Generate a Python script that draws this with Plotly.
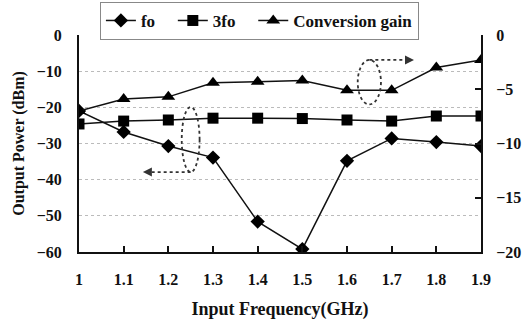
import plotly.graph_objects as go

freq = [1.0, 1.1, 1.2, 1.3, 1.4, 1.5, 1.6, 1.7, 1.8, 1.9]
fo = [-21.0, -26.8, -30.7, -33.9, -51.6, -59.2, -34.8, -28.6, -29.6, -30.7]
f3o = [-24.6, -23.8, -23.5, -23.0, -23.0, -23.1, -23.5, -23.8, -22.4, -22.4]
gain = [-7.0, -5.9, -5.7, -4.4, -4.3, -4.2, -5.1, -5.1, -3.0, -2.3]
x_ticks = [1.0, 1.1, 1.2, 1.3, 1.4, 1.5, 1.6, 1.7, 1.8, 1.9]
x_labels = ["1", "1.1", "1.2", "1.3", "1.4", "1.5", "1.6", "1.7", "1.8", "1.9"]
series_names = ["fo", "3fo", "Conversion gain"]

FONT = "Liberation Serif"
PAD = "\u00a0\u00a0\u00a0"
fig = go.Figure()
fig.add_trace(go.Scatter(x=freq, y=fo, name=series_names[0] + PAD, mode="lines+markers",
                         line=dict(color="#111", width=1.5),
                         marker=dict(symbol="diamond", size=11, color="#000")))
fig.add_trace(go.Scatter(x=freq, y=f3o, name=series_names[1] + PAD, mode="lines+markers",
                         line=dict(color="#111", width=1.5),
                         marker=dict(symbol="square", size=11, color="#000")))
fig.add_trace(go.Scatter(x=freq, y=gain, name=series_names[2], mode="lines+markers",
                         yaxis="y2", line=dict(color="#111", width=1.5),
                         marker=dict(symbol="triangle-up", size=12, color="#000")))

dot = dict(color="#333", width=1.8, dash="dot")
# left ellipse and arrow (fo/3fo -> left axis)
fig.add_shape(type="circle", xref="x", yref="y", x0=1.23, x1=1.27, y0=-37.9, y1=-19.9, line=dot)
fig.add_shape(type="line", xref="x", yref="y", x0=1.25, x1=1.155, y0=-37.9, y1=-37.9, line=dot)
fig.add_annotation(x=1.143, y=-37.9, ax=1.152, ay=-37.9, xref="x", yref="y", axref="x", ayref="y",
                   text="", showarrow=True, arrowhead=2, arrowsize=1, arrowwidth=1.8,
                   arrowcolor="#333")
# right ellipse and arrow (gain -> right axis)
fig.add_shape(type="circle", xref="x", yref="y2", x0=1.624, x1=1.676, y0=-6.4, y1=-2.3, line=dot)
fig.add_shape(type="line", xref="x", yref="y2", x0=1.65, x1=1.738, y0=-2.3, y1=-2.3, line=dot)
fig.add_annotation(x=1.75, y=-2.3, ax=1.741, ay=-2.3, xref="x", yref="y2", axref="x", ayref="y2",
                   text="", showarrow=True, arrowhead=2, arrowsize=1, arrowwidth=1.8,
                   arrowcolor="#333")

tickfont = dict(family=FONT, size=16, color="#111", weight="bold")
fig.update_layout(
    width=526, height=320,
    margin=dict(l=79, r=45, t=35, b=68, autoexpand=False),
    paper_bgcolor="white", plot_bgcolor="white",
    font=dict(family=FONT, color="#111"),
    showlegend=True,
    legend=dict(orientation="h", x=0.052, y=0.994, xanchor="left", yanchor="top",
                yref="container",
                bordercolor="#888", borderwidth=1, bgcolor="white",
                font=dict(family=FONT, size=17, color="#111", weight="bold"),
                tracegroupgap=0),
    xaxis=dict(range=[1.0, 1.9], tickvals=x_ticks, ticktext=x_labels,
               showline=True, linecolor="#111", linewidth=2, mirror=False,
               ticks="inside", ticklen=6, tickwidth=2, tickcolor="#111",
               showgrid=False, zeroline=False, tickfont=tickfont, ticklabelstandoff=12,
               title=dict(text="Input Frequency(GHz)", font=dict(family=FONT, size=18, weight="bold"),
                          standoff=18)),
    yaxis=dict(range=[-60, 0], dtick=10, showline=True, linecolor="#111", linewidth=2,
               ticks="", showgrid=True, gridcolor="#bbb", griddash="dot", gridwidth=1,
               zeroline=False, tickfont=tickfont, ticklabelstandoff=12,
               title=dict(text="Output Power (dBm)", font=dict(family=FONT, size=16, weight="bold"),
                          standoff=8)),
    yaxis2=dict(range=[-20, 0], dtick=5, overlaying="y", side="right", showline=True,
                linecolor="#111", linewidth=2, ticks="inside", ticklen=6, tickwidth=2,
                tickcolor="#111", showgrid=False, zeroline=False, tickfont=tickfont,
                ticklabelstandoff=10),
)
fig.write_html("out.html")
